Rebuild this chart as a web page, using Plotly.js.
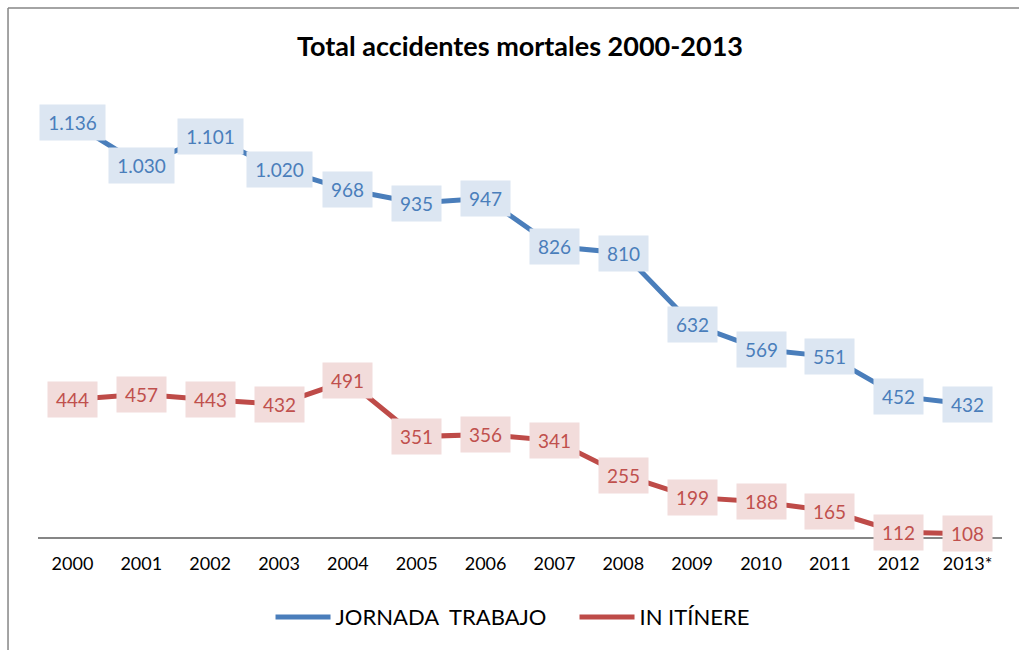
<!DOCTYPE html>
<html>
<head>
<meta charset="utf-8">
<script src="https://cdn.plot.ly/plotly-3.0.1.min.js"></script>
<style>
  html, body { margin: 0; padding: 0; background: #fff; }
  #chart { width: 1019px; height: 650px; }
</style>
</head>
<body>
<div id="chart"></div>
<script>
const years = ["2000","2001","2002","2003","2004","2005","2006","2007","2008","2009","2010","2011","2012","2013*"];
const jornada = [1136, 1030, 1101, 1020, 968, 935, 947, 826, 810, 632, 569, 551, 452, 432];
const itinere = [444, 457, 443, 432, 491, 351, 356, 341, 255, 199, 188, 165, 112, 108];
const seriesNames = ["JORNADA  TRABAJO", "IN ITÍNERE"];

const FONT = "Lato, 'Liberation Sans', sans-serif";
const BLUE = "#4A7EBB", BLUE_TXT = "#4A7EBB", BLUE_BG = "#DCE6F2";
const RED = "#BE4B48", RED_TXT = "#C0504D", RED_BG = "#F2DCDB";

function fmt(v) {
  return String(v).replace(/\B(?=(\d{3})+(?!\d))/g, ".");
}

const traces = [
  { x: years, y: jornada, name: seriesNames[0], type: "scatter", mode: "lines",
    line: { color: BLUE, width: 5 }, hoverinfo: "skip" },
  { x: years, y: itinere, name: seriesNames[1], type: "scatter", mode: "lines",
    line: { color: RED, width: 5 }, hoverinfo: "skip" }
];

const annotations = [];
function addLabels(vals, txtColor, bg) {
  vals.forEach((v, i) => {
    const t = fmt(v);
    annotations.push({
      x: i, y: v, xref: "x", yref: "y",
      text: t, showarrow: false,
      font: { family: FONT, size: 19, color: txtColor },
      bgcolor: bg, borderpad: 0,
      width: t.length > 3 ? 65 : 49, height: 35,
      xanchor: "center", yanchor: "middle", align: "center", valign: "middle"
    });
  });
}
addLabels(jornada, BLUE_TXT, BLUE_BG);
addLabels(itinere, RED_TXT, RED_BG);

const layout = {
  width: 1019, height: 650,
  margin: { l: 38, r: 17, t: 97, b: 113, autoexpand: false },
  paper_bgcolor: "#fff", plot_bgcolor: "#fff",
  font: { family: FONT, color: "#000" },
  title: { text: "<b>Total accidentes mortales 2000-2013</b>",
           font: { family: FONT, size: 27, color: "#000" },
           x: 0.5, xref: "paper", xanchor: "center", y: 0.929, yref: "container", yanchor: "middle" },
  xaxis: {
    type: "category", range: [-0.5, 13.5],
    showline: true, linecolor: "#868686", linewidth: 1.5,
    ticks: "", showgrid: false, zeroline: false,
    tickfont: { family: FONT, size: 18, color: "#000" },
    ticklabelstandoff: 10, fixedrange: true
  },
  yaxis: {
    range: [100, 1200], showticklabels: false, showgrid: false,
    zeroline: false, showline: false, ticks: "", fixedrange: true
  },
  showlegend: true,
  legend: {
    orientation: "h", x: 0.2412, xanchor: "left", y: -0.182, yanchor: "middle",
    font: { family: FONT, size: 22, color: "#000" },
    itemwidth: 55, traceorder: "normal", entrywidth: 234, entrywidthmode: "pixels"
  },
  annotations: annotations,
  shapes: [
    { type: "line", xref: "paper", yref: "paper", x0: -0.0311, x1: -0.0311, y0: 1.2023, y1: -0.3,
      line: { color: "#868686", width: 1.5 } },
    { type: "line", xref: "paper", yref: "paper", x0: -0.0311, x1: 1.05, y0: 1.2023, y1: 1.2023,
      line: { color: "#868686", width: 1.5 } }
  ]
};

Plotly.newPlot("chart", traces, layout, { displayModeBar: false, staticPlot: true });
</script>
</body>
</html>
